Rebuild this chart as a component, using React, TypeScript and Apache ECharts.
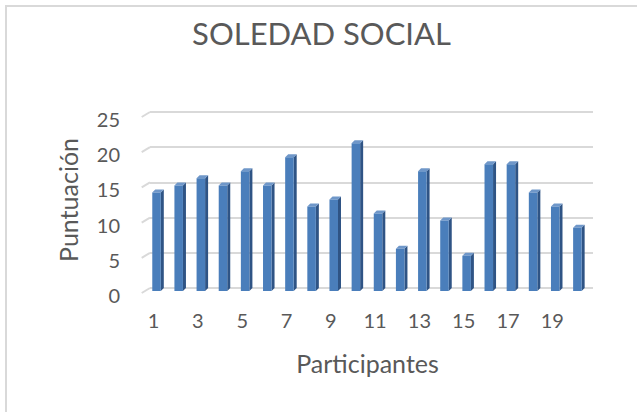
import React, { useEffect, useRef } from "react";
import * as echarts from "echarts";

const categories = ["1","2","3","4","5","6","7","8","9","10","11","12","13","14","15","16","17","18","19","20"];
const scores = [14, 15, 16, 15, 17, 15, 19, 12, 13, 21, 11, 6, 17, 10, 5, 18, 18, 14, 12, 9];
const yTicks = [0, 5, 10, 15, 20, 25];

const TEXT = "#595959";
const FONT = "Lato, 'Open Sans', sans-serif";

export default function App() {
  const ref = useRef<HTMLDivElement>(null);
  useEffect(() => {
    document.body.style.margin = "0";
    if (!ref.current) return;
    const chart = echarts.init(ref.current, undefined, { renderer: "svg" });
    const DEPTH = 3;
    chart.setOption({
      animation: false,
      backgroundColor: "#ffffff",
      textStyle: { fontFamily: FONT },
      graphic: [
        {
          type: "rect",
          shape: { x: 6, y: 6, width: 700, height: 500 },
          style: { fill: "none", stroke: "#D9D9D9", lineWidth: 2 },
          z: -10,
        },
      ],
      title: {
        text: "SOLEDAD SOCIAL",
        left: 316.5,
        textAlign: "center",
        top: 12,
        textStyle: { fontFamily: FONT, fontSize: 31, fontWeight: 400, color: TEXT },
      },
      grid: { left: 150, right: 44, top: 112, bottom: 124 },
      xAxis: {
        type: "category",
        data: categories,
        name: "Participantes",
        nameLocation: "middle",
        nameGap: 62,
        nameTextStyle: { fontFamily: FONT, fontSize: 25, color: TEXT, padding: [0, 8, 0, 0] },
        axisLine: { show: false },
        axisTick: { show: false },
        axisLabel: {
          interval: 1,
          margin: 22,
          fontSize: 20,
          color: TEXT,
          fontFamily: FONT,
          padding: [0, 15, 0, 0],
        },
      },
      yAxis: {
        type: "value",
        min: 0,
        max: 25,
        interval: 5,
        name: "Puntuación",
        nameLocation: "middle",
        nameGap: 70,
        nameTextStyle: { fontFamily: FONT, fontSize: 25, color: TEXT },
        axisLine: { show: false },
        axisTick: { show: false },
        axisLabel: {
          margin: 30,
          fontSize: 20,
          color: TEXT,
          fontFamily: FONT,
          verticalAlign: "top",
          lineHeight: 14,
        },
        splitLine: { lineStyle: { color: "#D9D9D9", width: 2 } },
      },
      series: [
        {
          type: "custom",
          data: scores.map((v, i) => [i, v]),
          renderItem: (params: any, api: any) => {
            const i = api.value(0);
            const v = api.value(1);
            const bandW = api.size([1, 0])[0];
            const b0 = api.coord([i, 0]);
            const bv = api.coord([i, v]);
            const w = bandW * 0.385;
            const bx = b0[0] - bandW * 0.262;
            const fx = bx - DEPTH;
            const fTop = bv[1] + DEPTH;
            const fBot = b0[1] + DEPTH;
            const children: any[] = [];
            if (params.dataIndex === 0) {
              const gl = b0[0] - bandW / 2;
              yTicks.forEach((t) => {
                const y = api.coord([0, t])[1];
                children.push({
                  type: "line",
                  shape: { x1: gl - 8.3, y1: y + 5, x2: gl, y2: y },
                  style: { stroke: "#D9D9D9", lineWidth: 2 },
                });
              });
            }
            children.push(
              {
                type: "polygon",
                shape: {
                  points: [
                    [fx + w, fTop],
                    [fx + w + DEPTH, fTop - DEPTH],
                    [fx + w + DEPTH, fBot - DEPTH],
                    [fx + w, fBot],
                  ],
                },
                style: { fill: "#2F5485" },
              },
              {
                type: "polygon",
                shape: {
                  points: [
                    [fx, fTop],
                    [fx + w, fTop],
                    [fx + w + DEPTH, fTop - DEPTH],
                    [fx + DEPTH, fTop - DEPTH],
                  ],
                },
                style: { fill: "#6F97C9" },
              },
              {
                type: "rect",
                shape: { x: fx, y: fTop, width: w, height: fBot - fTop },
                style: { fill: "#4A7EBB" },
              }
            );
            return { type: "group", children };
          },
        },
      ],
    });
    return () => chart.dispose();
  }, []);
  return <div ref={ref} style={{ width: 637, height: 412 }} />;
}
